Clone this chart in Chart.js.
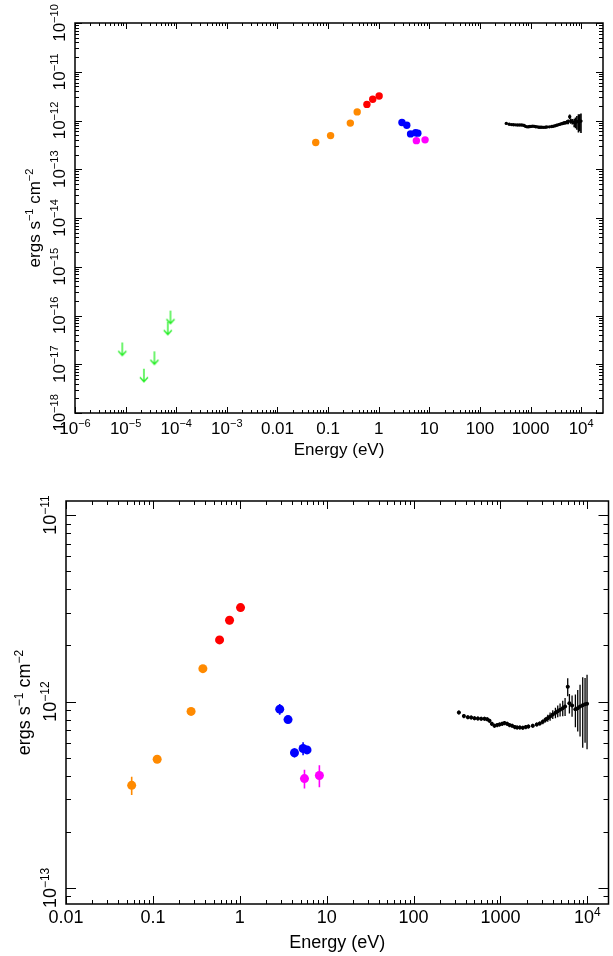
<!DOCTYPE html>
<html>
<head>
<meta charset="utf-8">
<script src="https://cdn.jsdelivr.net/npm/chart.js@4.4.0/dist/chart.umd.min.js"></script>
<style>
    html, body { margin: 0; padding: 0; background: #fff; }
    #wrap { position: relative; width: 613px; height: 956px; }
    .painel { position: absolute; left: 0; width: 613px; }
    #painelTopo { top: 0; height: 470px; }
    #painelBaixo { top: 470px; height: 486px; }
</style>
</head>
<body>
<div id="wrap">
    <div class="painel" id="painelTopo"><canvas id="graficoTopo"></canvas></div>
    <div class="painel" id="painelBaixo"><canvas id="graficoBaixo"></canvas></div>
</div>
<script>
// ---- dados ----
const orangeE = [0.057, 0.112, 0.275, 0.376];
const orangeF = [3.55e-13, 4.9e-13, 8.85e-13, 1.50e-12];
const orangeErr = [0.40e-13, 0.10e-13, 0.18e-13, 0.30e-13];

const redE = [0.585, 0.762, 1.02];
const redF = [2.14e-12, 2.73e-12, 3.19e-12];
const redErr = [0.10e-12, 0.13e-12, 0.08e-12];

const blueE = [2.88, 3.59, 4.26, 5.35, 5.94];
const blueF = [9.1e-13, 8.0e-13, 5.31e-13, 5.6e-13, 5.5e-13];
const blueErr = [0.6e-13, 0.3e-13, 0.3e-13, 0.45e-13, 0.2e-13];

const magentaE = [5.55, 8.24];
const magentaF = [3.86e-13, 4.01e-13];
const magentaErr = [0.45e-13, 0.54e-13];

// limites superiores (setas verdes)
const greenE = [8.6e-6, 2.3e-5, 3.7e-5, 6.8e-5, 7.7e-5];
const greenF = [2.8e-17, 8.1e-18, 1.84e-17, 7.5e-17, 1.26e-16];

// espectro (pontos pretos)
const specE = [332, 379, 421, 460, 502, 549, 600, 655, 703, 747, 795, 853, 916, 974, 1045, 1112,
    1193, 1269, 1362, 1461, 1554, 1668, 1806, 1955, 2098, 2353, 2616, 2831, 3067, 3290, 3500,
    3724, 3996, 4288, 4560, 4851, 5206, 5537, 5940, 6210, 6664, 7278, 7745, 8235, 8838, 9402, 9913];
const specF = [8.73, 8.35, 8.24, 8.21, 8.14, 8.11, 8.08, 8.08, 8.04, 7.88, 7.59, 7.41, 7.47, 7.53,
    7.59, 7.66, 7.59, 7.47, 7.41, 7.29, 7.26, 7.26, 7.23, 7.29, 7.35, 7.41, 7.53, 7.62, 7.78, 7.98,
    8.14, 8.31, 8.52, 8.70, 8.88, 9.03, 9.21, 9.40, 12.0, 9.80, 9.52, 9.10, 9.21, 9.40, 9.56, 9.68,
    9.72].map(v => v * 1e-13);
const specErrFrac = [0.025, 0.025, 0.025, 0.025, 0.025, 0.025, 0.025, 0.025, 0.025, 0.025, 0.025,
    0.025, 0.025, 0.025, 0.025, 0.025, 0.025, 0.025, 0.025, 0.025, 0.025, 0.025, 0.025, 0.025, 0.025,
    0.025, 0.025, 0.025, 0.028, 0.032, 0.042, 0.05, 0.055, 0.065, 0.072, 0.08, 0.095, 0.11, 0.11,
    0.12, 0.13, 0.20, 0.25, 0.31, 0.41, 0.38, 0.43];
const specBinFrac = 0.045;

// rótulos dos eixos
const topXTickVals = [1e-6, 1e-5, 1e-4, 1e-3, 0.01, 0.1, 1, 10, 100, 1000, 1e4];
const topXTickLabels = ['10⁻⁶', '10⁻⁵', '10⁻⁴', '10⁻³', '0.01', '0.1', '1', '10', '100', '1000', '10⁴'];
const topYTickVals = [1e-18, 1e-17, 1e-16, 1e-15, 1e-14, 1e-13, 1e-12, 1e-11, 1e-10];
const topYTickLabels = ['10⁻¹⁸', '10⁻¹⁷', '10⁻¹⁶', '10⁻¹⁵', '10⁻¹⁴', '10⁻¹³', '10⁻¹²', '10⁻¹¹', '10⁻¹⁰'];
const botXTickVals = [0.01, 0.1, 1, 10, 100, 1000, 1e4];
const botXTickLabels = ['0.01', '0.1', '1', '10', '100', '1000', '10⁴'];
const botYTickVals = [1e-13, 1e-12, 1e-11];
const botYTickLabels = ['10⁻¹³', '10⁻¹²', '10⁻¹¹'];
const xTitle = 'Energy (eV)';
const yTitle = 'ergs s⁻¹ cm⁻²';

const FONTE = '"Liberation Sans", Arial, Helvetica, sans-serif';
const supMap = { '⁻': '−', '⁰': '0', '¹': '1', '²': '2', '³': '3', '⁴': '4', '⁵': '5', '⁶': '6', '⁷': '7', '⁸': '8', '⁹': '9' };

function pontos(xs, ys) {
    return xs.map((v, i) => ({ x: v, y: ys[i] }));
}

function splitRuns(txt) {
    const runs = [];
    for (const ch of txt) {
        const sup = ch in supMap;
        const c = sup ? supMap[ch] : ch;
        if (runs.length && runs[runs.length - 1].sup === sup) runs[runs.length - 1].t += c;
        else runs.push({ t: c, sup: sup });
    }
    return runs;
}

// texto com expoentes, centrado em (x, y)
function drawRich(ctx, txt, x, y, size, rot) {
    const runs = splitRuns(txt);
    const supSize = Math.round(size * 0.66);
    let w = 0;
    runs.forEach(r => {
        ctx.font = (r.sup ? supSize : size) + 'px ' + FONTE;
        r.w = ctx.measureText(r.t).width;
        w += r.w;
    });
    ctx.save();
    ctx.translate(x, y);
    ctx.rotate(rot || 0);
    ctx.fillStyle = '#000';
    ctx.textAlign = 'left';
    ctx.textBaseline = 'alphabetic';
    let cx = -w / 2;
    const base = size * 0.36;
    runs.forEach(r => {
        ctx.font = (r.sup ? supSize : size) + 'px ' + FONTE;
        ctx.fillText(r.t, cx, r.sup ? base - size * 0.42 : base);
        cx += r.w;
    });
    ctx.restore();
}

function logTicks(min, max) {
    const out = [];
    for (let e = Math.floor(Math.log10(min)) - 1; e <= Math.ceil(Math.log10(max)); e++) {
        for (let m = 1; m <= 9; m++) {
            const v = m * Math.pow(10, e);
            if (v >= min * 0.999 && v <= max * 1.001) out.push({ v: v, major: m === 1 });
        }
    }
    return out;
}

function makeArrow() {
    const c = document.createElement('canvas');
    c.width = 12;
    c.height = 30;
    const g = c.getContext('2d');
    g.strokeStyle = '#22ee22';
    g.lineWidth = 1.3;
    g.beginPath();
    g.moveTo(6, 15); g.lineTo(6, 28);
    g.moveTo(2, 23.5); g.lineTo(6, 28); g.lineTo(10, 23.5);
    g.stroke();
    return c;
}

const eixosPlugin = {
    id: 'eixos',
    beforeDatasetsDraw(chart) {
        const { ctx, chartArea: a, scales: { x, y } } = chart;
        ctx.save();
        ctx.beginPath();
        ctx.rect(a.left, a.top, a.right - a.left, a.bottom - a.top);
        ctx.clip();
        chart.data.datasets.forEach(ds => {
            if (!ds.yErr) return;
            ctx.strokeStyle = ds.backgroundColor;
            ctx.lineWidth = ds.errWidth || 1;
            ds.data.forEach((p, j) => {
                const e = ds.yErr[j];
                const px = x.getPixelForValue(p.x);
                ctx.beginPath();
                ctx.moveTo(px, y.getPixelForValue(Math.max(p.y - e, p.y * 0.01)));
                ctx.lineTo(px, y.getPixelForValue(p.y + e));
                if (ds.xErrFrac) {
                    const py = y.getPixelForValue(p.y);
                    ctx.moveTo(x.getPixelForValue(p.x / (1 + ds.xErrFrac)), py);
                    ctx.lineTo(x.getPixelForValue(p.x * (1 + ds.xErrFrac)), py);
                }
                ctx.stroke();
            });
        });
        ctx.restore();
    },
    afterDatasetsDraw(chart, args, o) {
        const { ctx, chartArea: a, scales: { x, y } } = chart;
        ctx.save();
        ctx.strokeStyle = '#000';
        ctx.lineWidth = 1;
        ctx.beginPath();
        logTicks(x.min, x.max).forEach(t => {
            const px = Math.round(x.getPixelForValue(t.v)) + 0.5;
            const L = t.major ? o.xMaj : o.xMin;
            ctx.moveTo(px, a.bottom); ctx.lineTo(px, a.bottom - L);
            ctx.moveTo(px, a.top); ctx.lineTo(px, a.top + L);
        });
        logTicks(y.min, y.max).forEach(t => {
            const py = Math.round(y.getPixelForValue(t.v)) + 0.5;
            const L = t.major ? o.yMaj : o.yMin;
            ctx.moveTo(a.left, py); ctx.lineTo(a.left + L, py);
            ctx.moveTo(a.right, py); ctx.lineTo(a.right - L, py);
        });
        ctx.stroke();
        ctx.lineWidth = 1.5;
        ctx.strokeRect(a.left, a.top, a.right - a.left, a.bottom - a.top);
        ctx.restore();

        o.xVals.forEach((v, i) => drawRich(ctx, o.xLabels[i], x.getPixelForValue(v), a.bottom + o.xLabelOff, o.fontSize));
        o.yVals.forEach((v, i) => drawRich(ctx, o.yLabels[i], o.yLabelX, y.getPixelForValue(v), o.fontSize, -Math.PI / 2));
        drawRich(ctx, xTitle, (a.left + a.right) / 2, a.bottom + o.xTitleOff, o.fontSize);
        drawRich(ctx, yTitle, o.yTitleX, (a.top + a.bottom) / 2, o.fontSize, -Math.PI / 2);
    }
};

function criarPainel(id, p) {
    const datasets = [];
    const cor = (label, cor, xs, ys, err) => ({
        label: label,
        data: pontos(xs, ys),
        yErr: err,
        errWidth: p.errWidth,
        backgroundColor: cor,
        borderWidth: 0,
        pointRadius: p.radius,
        showLine: false
    });
    datasets.push(cor('orange', '#ff8a00', orangeE, orangeF, orangeErr));
    datasets.push(cor('red', '#ff0000', redE, redF, redErr));
    datasets.push(cor('blue', '#0000ff', blueE, blueF, blueErr));
    datasets.push(cor('magenta', '#ff00ff', magentaE, magentaF, magentaErr));
    datasets.push({
        label: 'espectro',
        data: pontos(specE, specF),
        yErr: specF.map((v, i) => v * specErrFrac[i]),
        xErrFrac: specBinFrac,
        errWidth: p.specErrWidth,
        backgroundColor: '#000',
        borderWidth: 0,
        pointRadius: p.specRadius,
        showLine: false
    });
    if (p.arrows) {
        datasets.push({
            label: 'limites',
            data: pontos(greenE, greenF),
            pointStyle: makeArrow(),
            showLine: false
        });
    }

    const ctx = document.getElementById(id).getContext('2d');
    return new Chart(ctx, {
        type: 'scatter',
        data: { datasets: datasets },
        options: {
            responsive: true,
            maintainAspectRatio: false,
            animation: false,
            layout: { padding: { top: p.top, right: p.right, left: 0, bottom: 0 } },
            scales: {
                x: {
                    type: 'logarithmic', min: p.xMin, max: p.xMax,
                    ticks: { display: false }, grid: { display: false }, border: { display: false },
                    afterFit: s => { s.height = p.xAxisH; }
                },
                y: {
                    type: 'logarithmic', min: p.yMin, max: p.yMax,
                    ticks: { display: false }, grid: { display: false }, border: { display: false },
                    afterFit: s => { s.width = p.yAxisW; }
                }
            },
            plugins: {
                legend: { display: false },
                tooltip: { enabled: false },
                eixos: p.eixos
            }
        },
        plugins: [eixosPlugin]
    });
}

criarPainel('graficoTopo', {
    top: 23, right: 10, xAxisH: 57, yAxisW: 75,
    xMin: 1e-6, xMax: 2.7e4, yMin: 1e-18, yMax: 1e-10,
    radius: 3.7, errWidth: 1.2, specRadius: 1.7, specErrWidth: 1.6, arrows: true,
    eixos: {
        xMaj: 6, xMin: 3, yMaj: 7, yMin: 4,
        xVals: topXTickVals, xLabels: topXTickLabels,
        yVals: topYTickVals, yLabels: topYTickLabels,
        fontSize: 17, xLabelOff: 15, xTitleOff: 36, yLabelX: 59, yTitleX: 34
    }
});

criarPainel('graficoBaixo', {
    top: 31, right: 4, xAxisH: 52, yAxisW: 66,
    xMin: 0.01, xMax: 1.75e4, yMin: 8.2e-14, yMax: 1.19e-11,
    radius: 4.5, errWidth: 1.6, specRadius: 2, specErrWidth: 1.3, arrows: false,
    eixos: {
        xMaj: 8, xMin: 4, yMaj: 10, yMin: 5,
        xVals: botXTickVals, xLabels: botXTickLabels,
        yVals: botYTickVals, yLabels: botYTickLabels,
        fontSize: 18, xLabelOff: 13, xTitleOff: 38, yLabelX: 50, yTitleX: 24
    }
});
</script>
</body>
</html>
